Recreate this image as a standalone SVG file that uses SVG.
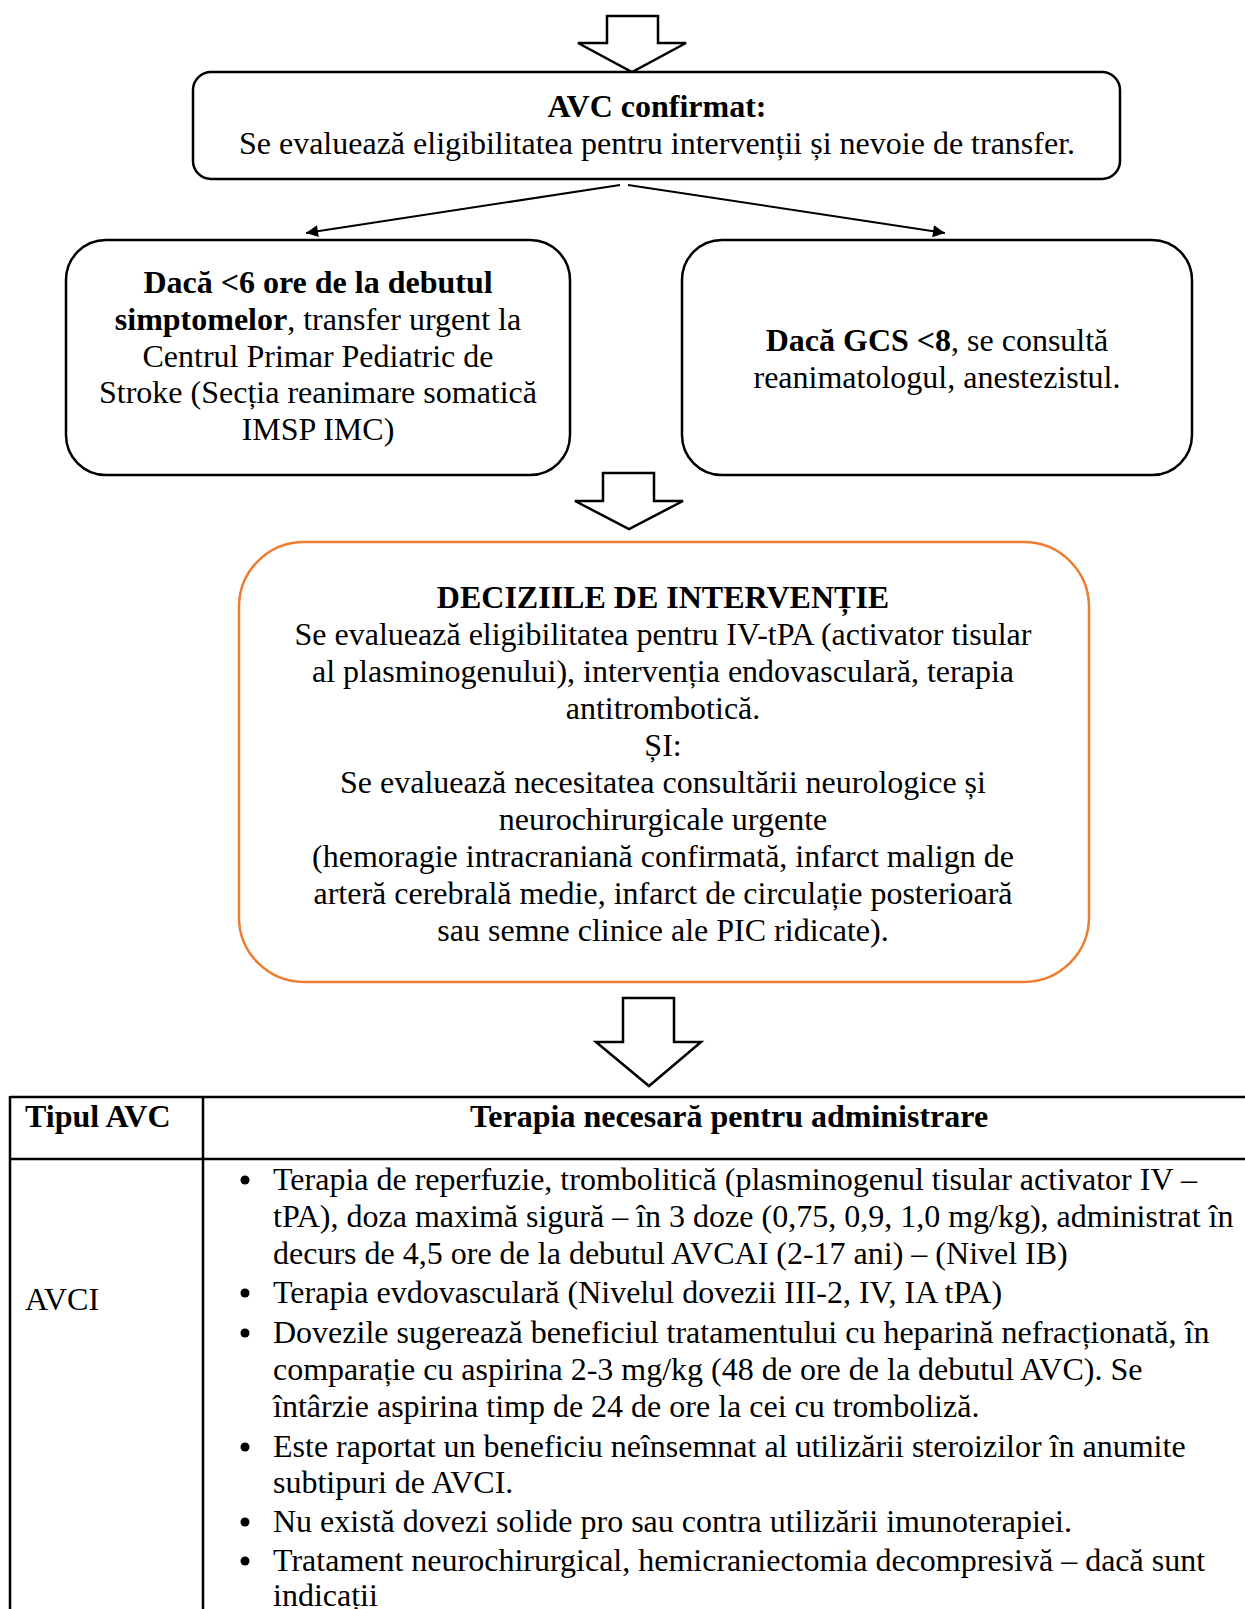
<svg xmlns="http://www.w3.org/2000/svg" width="1245" height="1609" viewBox="0 0 1245 1609">
<style>
text{font-family:"Liberation Serif","Times New Roman",serif;font-size:32px;fill:#000}
.c{text-anchor:middle}
.b{font-weight:bold}
.box{fill:#fff;stroke:#000;stroke-width:2.5}
.obox{fill:#fff;stroke:#ED7D31;stroke-width:2.5}
.blk{fill:#fff;stroke:#000;stroke-width:2.5;stroke-linejoin:miter}
.ln{stroke:#000;stroke-width:2;fill:none}
.tb{stroke:#000;stroke-width:2.5;fill:none}
</style>
<defs>
<marker id="ah" viewBox="0 0 10 10" refX="10" refY="5" markerWidth="15" markerHeight="12" markerUnits="userSpaceOnUse" orient="auto">
<path d="M0,0 L10,5 L0,10 z" fill="#000"/>
</marker>
</defs>
<rect width="1245" height="1609" fill="#fff"/>

<g id="connectors">
<polygon class="blk" points="607,16 658,16 658,43 686,43 632,72 578,43 607,43"/>
<line class="ln" x1="620" y1="185" x2="306" y2="233" marker-end="url(#ah)"/>
<line class="ln" x1="628" y1="185" x2="945" y2="233" marker-end="url(#ah)"/>
<polygon class="blk" points="603,473 654,473 654,501 683,501 629,529 575,501 603,501"/>
<polygon class="blk" points="623,998 674,998 674,1042 701,1042 649,1086 596,1042 623,1042"/>
</g>

<g id="node-avc-confirmat">
<rect class="box" x="193" y="72" width="927" height="107" rx="18"/>
<text class="c b" x="657" y="117">AVC confirmat:</text>
<text class="c" x="657" y="154">Se evaluează eligibilitatea pentru intervenții și nevoie de transfer.</text>
</g>

<g id="node-transfer">
<rect class="box" x="66" y="240" width="504" height="235" rx="40"/>
<text class="c b" x="318" y="293">Dacă &lt;6 ore de la debutul</text>
<text class="c" x="318" y="330"><tspan class="b">simptomelor</tspan>, transfer urgent la</text>
<text class="c" x="318" y="367">Centrul Primar Pediatric de</text>
<text class="c" x="318" y="403">Stroke (Secția reanimare somatică</text>
<text class="c" x="318" y="440">IMSP IMC)</text>
</g>

<g id="node-gcs">
<rect class="box" x="682" y="240" width="510" height="235" rx="40"/>
<text class="c" x="937" y="351"><tspan class="b">Dacă GCS &lt;8</tspan>, se consultă</text>
<text class="c" x="937" y="388">reanimatologul, anestezistul.</text>
</g>

<g id="node-decizii">
<rect class="obox" x="239" y="542" width="850" height="440" rx="65"/>
<text class="c b" x="663" y="608">DECIZIILE DE INTERVENȚIE</text>
<text class="c" x="663" y="645">Se evaluează eligibilitatea pentru IV-tPA (activator tisular</text>
<text class="c" x="663" y="682">al plasminogenului), intervenția endovasculară, terapia</text>
<text class="c" x="663" y="719">antitrombotică.</text>
<text class="c" x="663" y="756">ȘI:</text>
<text class="c" x="663" y="793">Se evaluează necesitatea consultării neurologice și</text>
<text class="c" x="663" y="830">neurochirurgicale urgente</text>
<text class="c" x="663" y="867">(hemoragie intracraniană confirmată, infarct malign de</text>
<text class="c" x="663" y="904">arteră cerebrală medie, infarct de circulație posterioară</text>
<text class="c" x="663" y="941">sau semne clinice ale PIC ridicate).</text>
</g>

<g id="table">
<line class="tb" x1="10" y1="1097" x2="1245" y2="1097"/>
<line class="tb" x1="10" y1="1159" x2="1245" y2="1159"/>
<line class="tb" x1="10" y1="1096" x2="10" y2="1609"/>
<line class="tb" x1="203" y1="1096" x2="203" y2="1609"/>
<text class="b" x="25" y="1127">Tipul AVC</text>
<text class="c b" x="729" y="1127">Terapia necesară pentru administrare</text>
<text x="25" y="1310">AVCI</text>
<g fill="#000">
<circle cx="245" cy="1180" r="4.5"/>
<circle cx="245" cy="1293" r="4.5"/>
<circle cx="245" cy="1333" r="4.5"/>
<circle cx="245" cy="1447" r="4.5"/>
<circle cx="245" cy="1522" r="4.5"/>
<circle cx="245" cy="1561" r="4.5"/>
</g>
<text x="273" y="1190">Terapia de reperfuzie, trombolitică (plasminogenul tisular activator IV –</text>
<text x="273" y="1227">tPA), doza maximă sigură – în 3 doze (0,75, 0,9, 1,0 mg/kg), administrat în</text>
<text x="273" y="1264">decurs de 4,5 ore de la debutul AVCAI (2-17 ani) – (Nivel IB)</text>
<text x="273" y="1303">Terapia evdovasculară (Nivelul dovezii III-2, IV, IA tPA)</text>
<text x="273" y="1343">Dovezile sugerează beneficiul tratamentului cu heparină nefracționată, în</text>
<text x="273" y="1380">comparație cu aspirina 2-3 mg/kg (48 de ore de la debutul AVC). Se</text>
<text x="273" y="1417">întârzie aspirina timp de 24 de ore la cei cu tromboliză.</text>
<text x="273" y="1457">Este raportat un beneficiu neînsemnat al utilizării steroizilor în anumite</text>
<text x="273" y="1493">subtipuri de AVCI.</text>
<text x="273" y="1532">Nu există dovezi solide pro sau contra utilizării imunoterapiei.</text>
<text x="273" y="1571">Tratament neurochirurgical, hemicraniectomia decompresivă – dacă sunt</text>
<text x="273" y="1606">indicații</text>
</g>
</svg>
